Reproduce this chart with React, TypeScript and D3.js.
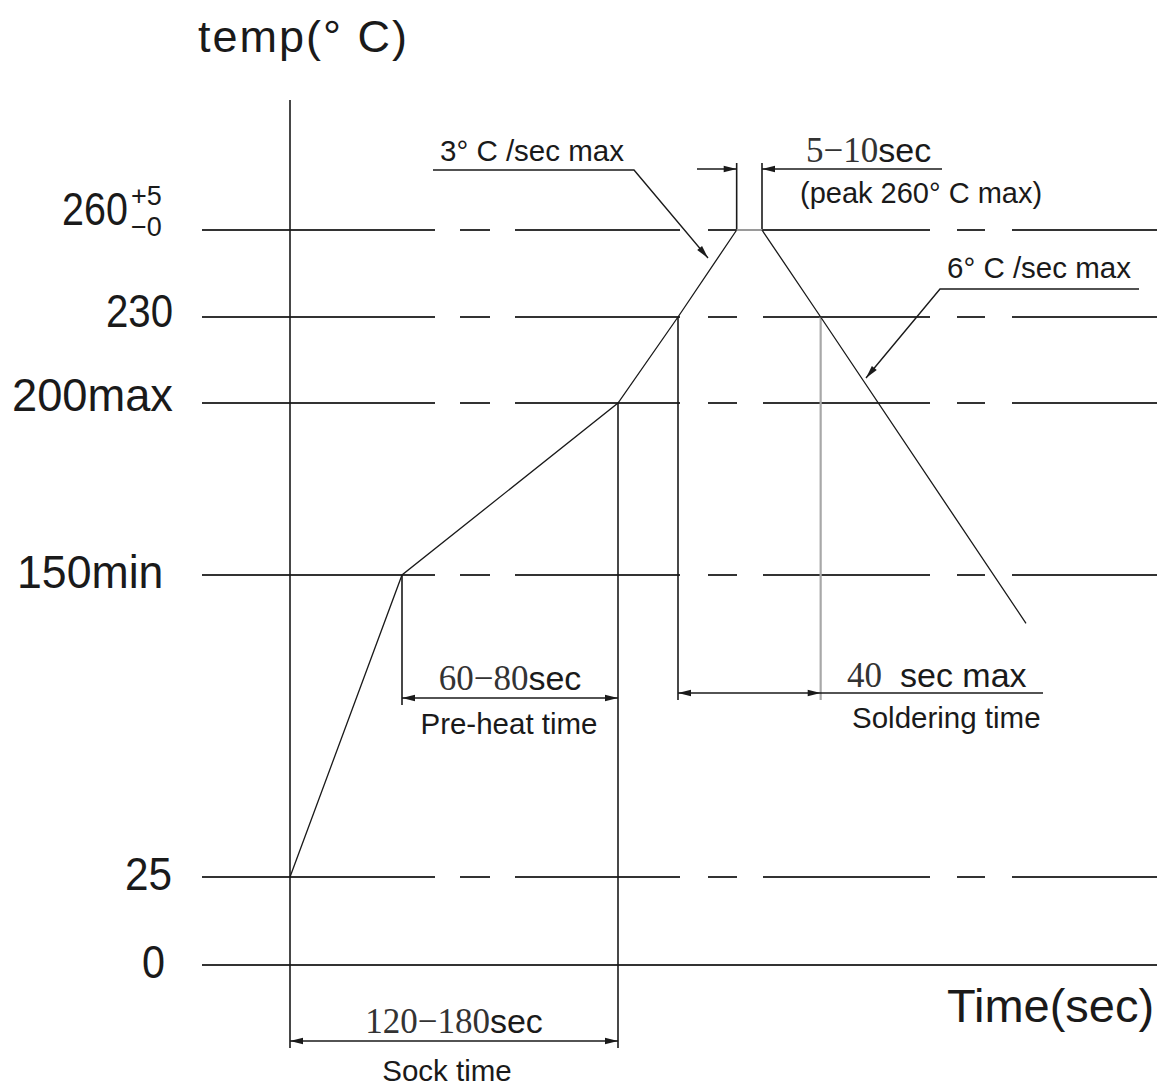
import React from "react";
import * as d3 from "d3";

// ---- data ----
const tempTicks = [0, 25, 150, 200, 230, 260];
const tempTickLabels = ["0", "25", "150min", "200max", "230", "260"];
const profileTime = [0, 42, 123, 145.5, 167.5, 177, 199, 276];
const profileTemp = [25, 150, 200, 230, 260, 260, 230, 130];
const peakTol = ["+5", "−0"];
const yTitle = "temp(° C)";
const xTitle = "Time(sec)";
const sockText = ["120−180", "sec", "Sock time"];
const preheatText = ["60−80", "sec", "Pre-heat time"];
const solderText = ["40", "sec max", "Soldering time"];
const peakText = ["5−10", "sec", "(peak 260° C max)"];
const rampUpText = "3° C /sec max";
const rampDownText = "6° C /sec max";

const SANS = "'Liberation Sans', Arial, Helvetica, sans-serif";
const SERIF = "'Liberation Serif', 'Times New Roman', serif";
const DASH = "233 25 30 25 165 28 29 26 167 27 28 27 145";

// label layout (style): left x, horizontal squeeze, baseline offset
const labelLeft = [142, 125, 17, 12, 106, 62];
const labelScale = [0.88, 0.9, 0.95, 0.963, 0.855, 0.84];
const labelDy = [13, 13, 13, 8, 10, -5];

function arrowHead(tx: number, ty: number, fx: number, fy: number, len = 13, half = 3.2) {
  const dx = tx - fx, dy = ty - fy;
  const L = Math.hypot(dx, dy) || 1;
  const ux = dx / L, uy = dy / L;
  const bx = tx - ux * len, by = ty - uy * len;
  const nx = -uy * half, ny = ux * half;
  return `M${tx},${ty}L${bx + nx},${by + ny}L${bx - nx},${by - ny}Z`;
}

export default function App() {
  const W = 1164, H = 1086;
  const x = d3.scaleLinear().domain([0, 300]).range([290, 1090]);
  const y = d3.scaleLinear().domain(tempTicks).range([965, 877, 575, 403, 317, 230]);

  const pts: [number, number][] = profileTime.map((t, i) => [x(t), y(profileTemp[i])]);
  const line = d3.line();

  const gridX0 = 202, gridX1 = 1157;
  const ink = "#1a1a1a";
  const gridInk = "#333";

  const tRise150 = profileTime[1];
  const tSoakEnd = profileTime[2];
  const tUp230 = profileTime[3];
  const tPeakA = profileTime[4];
  const tPeakB = profileTime[5];
  const tDown230 = profileTime[6];

  const preY = 698, sockY = 1041, solY = 693, peakY = 169;

  return (
    <svg width={W} height={H} style={{ display: "block", position: "absolute", left: 0, top: 0, background: "#fff" }}>
      <rect x={0} y={0} width={W} height={H} fill="#fff" />
      {/* horizontal reference lines */}
      {tempTicks.map((v) => (
        <line key={"g" + v} x1={gridX0} x2={gridX1} y1={y(v)} y2={y(v)}
          stroke={gridInk} strokeWidth={1.8}
          strokeDasharray={v === 0 ? undefined : DASH} />
      ))}
      {/* y tick labels */}
      {tempTicks.map((v, i) => (
        <text key={"l" + v}
          transform={`translate(${labelLeft[i]},${y(v) + labelDy[i]}) scale(${labelScale[i]},1)`}
          fontFamily={SANS} fontSize={47} fill={ink}>
          {tempTickLabels[i]}
        </text>
      ))}
      <text x={131} y={y(260) - 25} fontFamily={SANS} fontSize={27} fill={ink}>{peakTol[0]}</text>
      <text x={131} y={y(260) + 6} fontFamily={SANS} fontSize={27} fill={ink}>{peakTol[1]}</text>

      {/* axis titles */}
      <text x={198} y={52} fontFamily={SANS} fontSize={45} fill={ink} textLength={209} lengthAdjust="spacing">{yTitle}</text>
      <text x={947} y={1022} fontFamily={SANS} fontSize={47} fill={ink}>{xTitle}</text>

      {/* vertical axis */}
      <line x1={x(0)} x2={x(0)} y1={100} y2={1048} stroke={ink} strokeWidth={1.6} />
      {/* extension lines */}
      <line x1={x(tRise150)} x2={x(tRise150)} y1={y(150)} y2={705} stroke={ink} strokeWidth={1.6} />
      <line x1={x(tSoakEnd)} x2={x(tSoakEnd)} y1={y(200)} y2={1048} stroke={ink} strokeWidth={1.6} />
      <line x1={x(tUp230)} x2={x(tUp230)} y1={y(230)} y2={700} stroke={ink} strokeWidth={1.6} />
      <line x1={x(tDown230)} x2={x(tDown230)} y1={y(230)} y2={700} stroke="#a8a8a8" strokeWidth={2.2} />
      <line x1={x(tPeakA)} x2={x(tPeakA)} y1={y(260)} y2={163} stroke={ink} strokeWidth={1.6} />
      <line x1={x(tPeakB)} x2={x(tPeakB)} y1={y(260)} y2={163} stroke={ink} strokeWidth={1.6} />

      {/* profile */}
      <path d={line(pts.slice(0, 5)) || ""} fill="none" stroke={ink} strokeWidth={1.3} />
      <path d={line(pts.slice(4, 6)) || ""} fill="none" stroke="#9a9a9a" strokeWidth={2} />
      <path d={line(pts.slice(5)) || ""} fill="none" stroke={ink} strokeWidth={1.3} />

      {/* pre-heat dimension */}
      <line x1={x(tRise150)} x2={x(tSoakEnd)} y1={preY} y2={preY} stroke={ink} strokeWidth={1.4} />
      <path d={arrowHead(x(tRise150), preY, x(tSoakEnd), preY)} fill={ink} />
      <path d={arrowHead(x(tSoakEnd), preY, x(tRise150), preY)} fill={ink} />
      <text x={(x(tRise150) + x(tSoakEnd)) / 2} y={690} textAnchor="middle" fill={ink}>
        <tspan fontFamily={SERIF} fontSize={35} fill="#333">{preheatText[0]}</tspan>
        <tspan fontFamily={SANS} fontSize={34}>{preheatText[1]}</tspan>
      </text>
      <text x={(x(tRise150) + x(tSoakEnd)) / 2 - 1} y={734} textAnchor="middle" fontFamily={SANS} fontSize={29.5} fill={ink}>{preheatText[2]}</text>

      {/* sock dimension */}
      <line x1={x(0)} x2={x(tSoakEnd)} y1={sockY} y2={sockY} stroke={ink} strokeWidth={1.4} />
      <path d={arrowHead(x(0), sockY, x(tSoakEnd), sockY)} fill={ink} />
      <path d={arrowHead(x(tSoakEnd), sockY, x(0), sockY)} fill={ink} />
      <text x={(x(0) + x(tSoakEnd)) / 2} y={1033} textAnchor="middle" fill={ink}>
        <tspan fontFamily={SERIF} fontSize={35} fill="#333">{sockText[0]}</tspan>
        <tspan fontFamily={SANS} fontSize={34}>{sockText[1]}</tspan>
      </text>
      <text x={(x(0) + x(tSoakEnd)) / 2 - 7} y={1081} textAnchor="middle" fontFamily={SANS} fontSize={29.5} fill={ink}>{sockText[2]}</text>

      {/* soldering dimension */}
      <line x1={x(tUp230)} x2={1043} y1={solY} y2={solY} stroke={ink} strokeWidth={1.4} />
      <path d={arrowHead(x(tUp230), solY, x(tDown230), solY)} fill={ink} />
      <path d={arrowHead(x(tDown230), solY, x(tUp230), solY)} fill={ink} />
      <text x={847} y={687} fill={ink}>
        <tspan fontFamily={SERIF} fontSize={35} fill="#333">{solderText[0]}</tspan>
        <tspan fontFamily={SANS} fontSize={34} dx={18}>{solderText[1]}</tspan>
      </text>
      <text x={852} y={728} fontFamily={SANS} fontSize={29.5} fill={ink}>{solderText[2]}</text>

      {/* peak dimension */}
      <line x1={697} x2={x(tPeakA)} y1={peakY} y2={peakY} stroke={ink} strokeWidth={1.4} />
      <line x1={x(tPeakB)} x2={942} y1={peakY} y2={peakY} stroke={ink} strokeWidth={1.4} />
      <path d={arrowHead(x(tPeakA), peakY, 697, peakY)} fill={ink} />
      <path d={arrowHead(x(tPeakB), peakY, 942, peakY)} fill={ink} />
      <text x={806} y={162} fill={ink}>
        <tspan fontFamily={SERIF} fontSize={35} fill="#333">{peakText[0]}</tspan>
        <tspan fontFamily={SANS} fontSize={34}>{peakText[1]}</tspan>
      </text>
      <text x={800} y={203} fontFamily={SANS} fontSize={29} fill={ink}>{peakText[2]}</text>

      {/* ramp-up leader */}
      <polyline points="433,170 634,170 708,258" fill="none" stroke={ink} strokeWidth={1.4} />
      <path d={arrowHead(708, 258, 634, 170)} fill={ink} />
      <text x={440} y={161} fontFamily={SANS} fontSize={29.5} fill={ink}>{rampUpText}</text>

      {/* ramp-down leader */}
      <polyline points="1139,289 940,289 866,378" fill="none" stroke={ink} strokeWidth={1.4} />
      <path d={arrowHead(866, 378, 940, 289)} fill={ink} />
      <text x={947} y={278} fontFamily={SANS} fontSize={29.5} fill={ink}>{rampDownText}</text>
    </svg>
  );
}
